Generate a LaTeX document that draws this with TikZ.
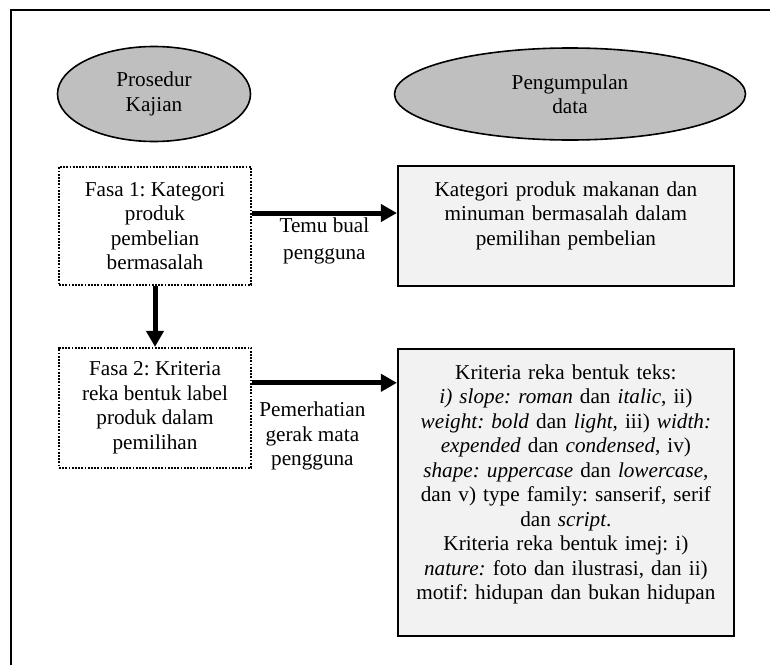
\documentclass[tikz,border=0pt]{standalone}
\usepackage{fontspec}
\setmainfont{Liberation Serif}
\usetikzlibrary{positioning,arrows.meta,shapes.geometric}
\frenchspacing

\definecolor{ovalgray}{RGB}{191,191,191}
\definecolor{boxgray}{RGB}{242,242,242}

\begin{document}
\begin{tikzpicture}[
    x=0.5pt, y=-0.5pt,
    font=\fontsize{10.6}{12.25}\selectfont,
    oval/.style   = {ellipse, draw, line width=0.8pt, fill=ovalgray,
                     align=center, inner sep=0pt},
    phase/.style  = {draw, line width=0.9pt, dash pattern=on 0.9pt off 0.7pt,
                     minimum width=96pt, align=center, inner sep=2pt},
    result/.style = {draw, line width=1pt, fill=boxgray, minimum width=168pt,
                     text width=160pt, align=center, inner xsep=0pt,
                     inner ysep=6pt, text height=9pt},
    lbl/.style    = {align=center, inner sep=0pt},
    every edge/.style = {draw, line width=2.5pt,
                         -{Triangle[length=8pt,width=8.5pt]}}
]

\path[use as bounding box, clip] (0,0) rectangle (770,664);
\draw[line width=1pt] (11,10) rectangle (800,700);

% =========================================================
% HEADINGS
% =========================================================
\node[oval, minimum width=96.5pt, minimum height=47.5pt] (proc) at (154,94)
  {Prosedur\\Kajian};
\node[oval, minimum width=175.5pt, minimum height=46pt] (data) at (570,94)
  {Pengumpulan\\data};

% =========================================================
% PHASES
% =========================================================
\node[phase, minimum height=59pt] (fasa1) at (155,226)
  {Fasa 1: Kategori\\produk\\pembelian\\bermasalah};
\node[phase, minimum height=60pt, below=30.5pt of fasa1] (fasa2)
  {Fasa 2: Kriteria\\reka bentuk label\\produk dalam\\pemilihan};

% =========================================================
% DATA
% =========================================================
\node[result, text depth=39pt, right=72.5pt of fasa1] (kat)
  {Kategori produk makanan dan\\minuman bermasalah dalam\\pemilihan pembelian};
\node[result, text depth=122.5pt, below=30.5pt of kat] (krit)
  {Kriteria reka bentuk teks:\\
   \textit{i) slope: roman} dan \textit{italic}, ii)\\
   \textit{weight: bold} dan \textit{light}, iii) \textit{width:}\\
   \textit{expended} dan \textit{condensed}, iv)\\
   \textit{shape: uppercase} dan \textit{lowercase},\\
   dan v) type family: sanserif, serif\\
   dan \textit{script}.\\
   Kriteria reka bentuk imej: i)\\
   \textit{nature:} foto dan ilustrasi, dan ii)\\
   motif: hidupan dan bukan hidupan};

% =========================================================
% ARROWS
% =========================================================
\path
  (fasa1) edge (fasa2)
  ([yshift=6.5pt]fasa1.east) edge
      node[lbl, below=1.25pt] {Temu bual\\[1.25pt]pengguna}
      ([yshift=6.5pt]fasa1.east -| kat.west)
  ([yshift=12.5pt]fasa2.east) edge
      node[lbl, below=8.25pt, xshift=-6pt] {Pemerhatian\\gerak mata\\pengguna}
      ([yshift=12.5pt]fasa2.east -| krit.west);

\end{tikzpicture}
\end{document}
